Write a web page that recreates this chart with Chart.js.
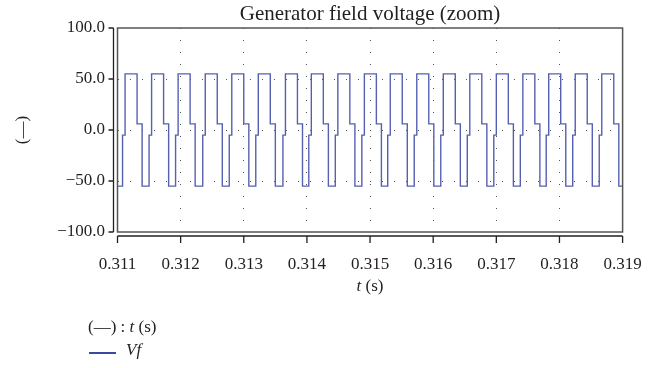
<!DOCTYPE html>
<html>
<head>
<meta charset="utf-8">
<script src="https://cdn.jsdelivr.net/npm/chart.js@4"></script>
<style>
  html, body { margin: 0; padding: 0; background: #fff; }
  #wrap { width: 664px; height: 368px; position: relative; }
</style>
</head>
<body>
<div id="wrap"><canvas id="chartVf"></canvas></div>
<script>
// switching instants of the field voltage (s)
const riseTimes = [0.31108, 0.31150, 0.31192, 0.31235, 0.31277, 0.31319, 0.31362, 0.31403, 0.31445, 0.31487,
  0.31528, 0.31570, 0.31612, 0.31654, 0.31696, 0.31738, 0.31779, 0.31821, 0.31863];
const peakTimes = [0.31112, 0.31154, 0.31196, 0.31239, 0.31281, 0.31323, 0.31366, 0.31407, 0.31449, 0.31491,
  0.31532, 0.31574, 0.31616, 0.31658, 0.31700, 0.31742, 0.31783, 0.31825, 0.31867];
const dropTimes = [0.31131, 0.31173, 0.31215, 0.31258, 0.31300, 0.31342, 0.31385, 0.31426, 0.31468, 0.31510,
  0.31551, 0.31593, 0.31635, 0.31677, 0.31719, 0.31761, 0.31802, 0.31844, 0.31886];
const fallTimes = [0.31139, 0.31181, 0.31223, 0.31266, 0.31308, 0.31350, 0.31393, 0.31434, 0.31476, 0.31518,
  0.31559, 0.31601, 0.31643, 0.31685, 0.31727, 0.31769, 0.31810, 0.31852, 0.31894];

// voltage levels (V): after rise, top, after drop, bottom
const levels = [-5, 55, 6, -55];

const xTicks = [0.311, 0.312, 0.313, 0.314, 0.315, 0.316, 0.317, 0.318, 0.319];
const yTicks = [-100, -50, 0, 50, 100];

const SERIF = '"Liberation Serif", "DejaVu Serif", serif';
const INK = '#231f20';

function buildPoints() {
  const pts = [{ x: xTicks[0], y: levels[3] }];
  riseTimes.forEach((t, i) => {
    pts.push({ x: t, y: levels[0] });
    pts.push({ x: peakTimes[i], y: levels[1] });
    pts.push({ x: dropTimes[i], y: levels[2] });
    pts.push({ x: fallTimes[i], y: levels[3] });
  });
  pts.push({ x: xTicks[xTicks.length - 1], y: levels[3] });
  return pts;
}

// frame, offset axes, x title and the legend block
const decorPlugin = {
  id: 'decor',
  afterDatasetsDraw(chart) {
    const { ctx, chartArea: a, scales } = chart;
    ctx.save();
    ctx.strokeStyle = '#555';
    ctx.lineWidth = 1.5;
    ctx.strokeRect(a.left, a.top, a.right - a.left, a.bottom - a.top);

    ctx.strokeStyle = INK;
    ctx.lineWidth = 1.3;
    const axY = a.bottom + 4;
    ctx.beginPath();
    ctx.moveTo(a.left, axY);
    ctx.lineTo(a.right, axY);
    xTicks.forEach((v) => {
      const px = scales.x.getPixelForValue(v);
      ctx.moveTo(px, axY);
      ctx.lineTo(px, axY + 7);
    });
    const axX = a.left - 4;
    ctx.moveTo(axX, a.top);
    ctx.lineTo(axX, a.bottom);
    yTicks.forEach((v) => {
      const py = scales.y.getPixelForValue(v);
      ctx.moveTo(axX, py);
      ctx.lineTo(axX - 5, py);
    });
    ctx.stroke();

    // x title: t (s)
    ctx.fillStyle = INK;
    ctx.textBaseline = 'middle';
    const cx = (a.left + a.right) / 2;
    const ty = 287;
    ctx.font = 'italic 17px ' + SERIF;
    const wt = ctx.measureText('t').width;
    ctx.font = '17px ' + SERIF;
    const ws = ctx.measureText(' (s)').width;
    let x0 = cx - (wt + ws) / 2;
    ctx.font = 'italic 17px ' + SERIF;
    ctx.fillText('t', x0, ty);
    ctx.font = '17px ' + SERIF;
    ctx.fillText(' (s)', x0 + wt, ty);

    // legend
    const lx = 88;
    ctx.font = '17px ' + SERIF;
    ctx.fillText('(—) : ', lx, 328);
    let w1 = ctx.measureText('(—) : ').width;
    ctx.font = 'italic 17px ' + SERIF;
    ctx.fillText('t', lx + w1, 328);
    w1 += ctx.measureText('t').width;
    ctx.font = '17px ' + SERIF;
    ctx.fillText(' (s)', lx + w1, 328);

    const ds = chart.data.datasets[0];
    ctx.strokeStyle = '#3b48a0';
    ctx.lineWidth = 2;
    ctx.beginPath();
    ctx.moveTo(lx + 1, 353);
    ctx.lineTo(lx + 28, 353);
    ctx.stroke();
    ctx.font = 'italic 17px ' + SERIF;
    ctx.fillText(ds.label, lx + 38, 351);
    ctx.restore();
  },
};

const edgeAware = (ticks) => (c) => {
  const v = c.tick ? c.tick.value : null;
  return v === ticks[0] || v === ticks[ticks.length - 1] ? 'rgba(0,0,0,0)' : '#555';
};

new Chart(document.getElementById('chartVf'), {
  type: 'line',
  data: {
    datasets: [{
      label: 'Vf',
      data: buildPoints(),
      borderColor: '#5560b0',
      borderWidth: 1.4,
      pointRadius: 0,
      stepped: true,
      fill: false,
    }],
  },
  options: {
    responsive: true,
    maintainAspectRatio: false,
    animation: false,
    layout: { padding: { left: 0, right: 41.4, top: 0, bottom: 0 } },
    scales: {
      x: {
        type: 'linear',
        min: xTicks[0],
        max: xTicks[xTicks.length - 1],
        afterBuildTicks: (s) => { s.ticks = xTicks.map((value) => ({ value })); },
        afterFit: (s) => { s.height = 136; },
        ticks: {
          autoSkip: false,
          maxRotation: 0,
          padding: 22,
          color: INK,
          font: { family: SERIF, size: 17 },
          callback: (v) => Number(v).toFixed(3),
        },
        grid: { color: edgeAware(xTicks), drawTicks: false, lineWidth: 1 },
        border: { display: false, dash: [1, 11] },
      },
      y: {
        min: yTicks[0],
        max: yTicks[yTicks.length - 1],
        afterBuildTicks: (s) => { s.ticks = yTicks.map((value) => ({ value })); },
        afterFit: (s) => { s.width = 117.5; },
        ticks: {
          padding: 12.5,
          color: INK,
          font: { family: SERIF, size: 17 },
          callback: (v) => Number(v).toFixed(1).replace('-', '−'),
        },
        grid: { color: edgeAware(yTicks), drawTicks: false, lineWidth: 1 },
        border: { display: false, dash: [1, 11] },
        title: {
          display: true,
          text: '(—)',
          color: INK,
          font: { family: SERIF, size: 17 },
          padding: { top: 12, bottom: 0 },
        },
      },
    },
    plugins: {
      legend: { display: false },
      tooltip: { enabled: false },
      title: {
        display: true,
        text: 'Generator field voltage (zoom)',
        fullSize: false,
        color: INK,
        font: { family: SERIF, size: 21, weight: 'normal' },
        padding: { top: 1.4, bottom: 1.4 },
      },
    },
  },
  plugins: [decorPlugin],
});
</script>
</body>
</html>
